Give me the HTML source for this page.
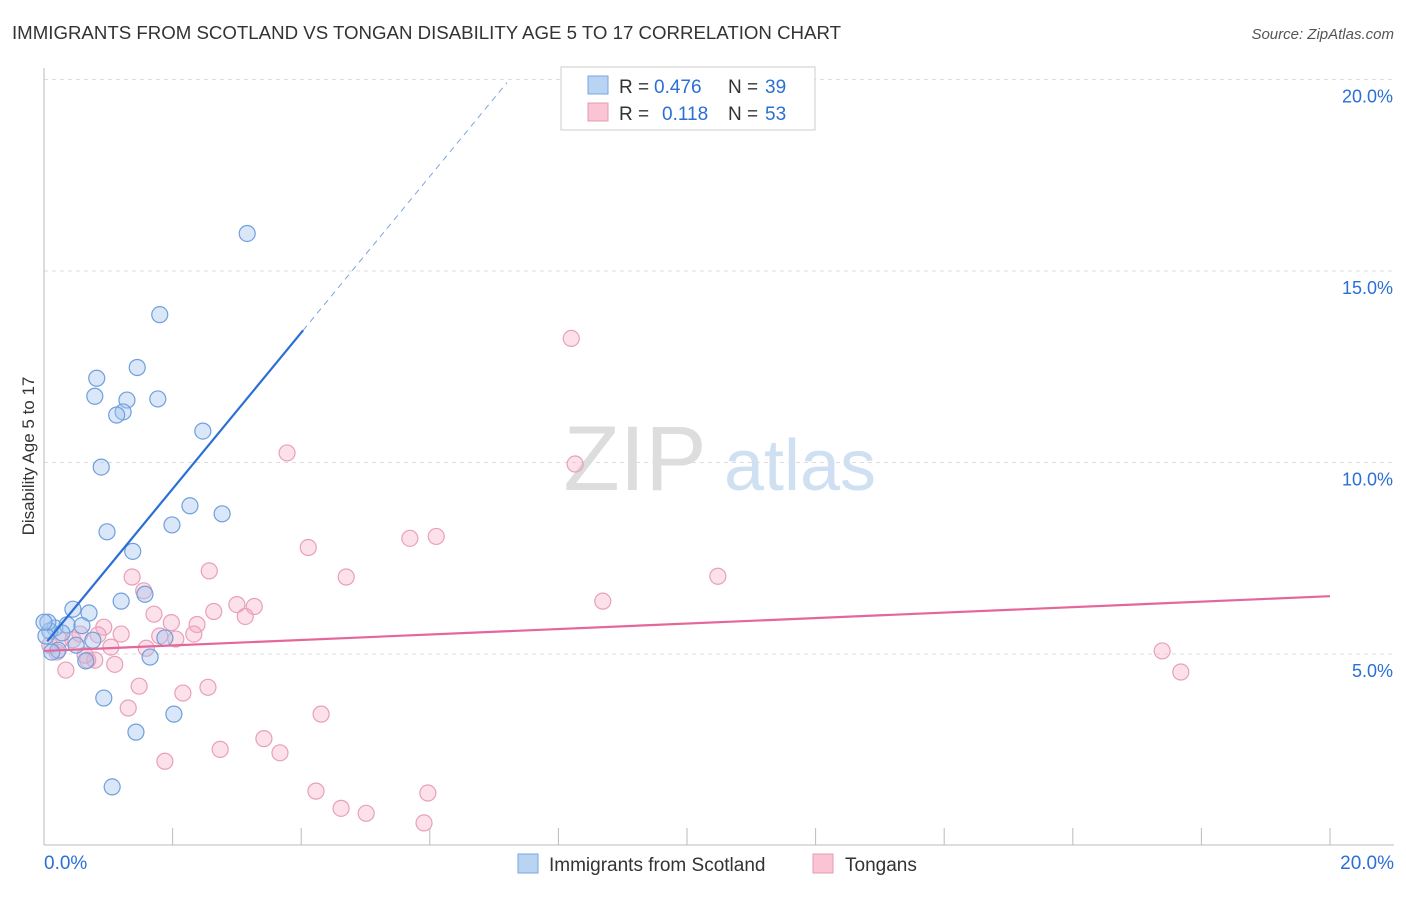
<!DOCTYPE html>
<html><head><meta charset="utf-8"><style>
body{margin:0;background:#fff;font-family:"Liberation Sans",sans-serif;}
svg text{font-family:"Liberation Sans",sans-serif;}
</style></head><body>
<svg id="chart" width="1406" height="892">
<text x="12" y="39" font-size="18" fill="#333" textLength="829" lengthAdjust="spacingAndGlyphs">IMMIGRANTS FROM SCOTLAND VS TONGAN DISABILITY AGE 5 TO 17 CORRELATION CHART</text>
<text x="1394" y="39" font-size="15" fill="#555" text-anchor="end" font-style="italic">Source: ZipAtlas.com</text>
<g>
<text x="635" y="490" font-size="92" fill="#ddd" font-family="Liberation Serif" text-anchor="middle">ZIP</text>
<text x="800" y="490" font-size="72" fill="#cfe0f3" text-anchor="middle">atlas</text>
</g>
<g id="grid"></g>
<g id="marks"></g>
<text transform="translate(34,456) rotate(-90)" font-size="17" fill="#333" text-anchor="middle">Disability Age 5 to 17</text>
<g>
<rect x="561" y="67" width="254" height="63" fill="#fff" stroke="#ccc"/>
<rect x="588" y="76" width="20" height="18" fill="#b9d3f3" stroke="#7aa6e0"/>
<rect x="588" y="103" width="20" height="18" fill="#f9c5d5" stroke="#e79ab4"/>
<text x="619" y="93" font-size="19" fill="#333">R =</text>
<text x="654" y="93" font-size="19" fill="#2b6fd6">0.476</text>
<text x="728" y="93" font-size="19" fill="#333">N =</text>
<text x="765" y="93" font-size="19" fill="#2b6fd6">39</text>
<text x="619" y="120" font-size="19" fill="#333">R =</text>
<text x="662" y="120" font-size="19" fill="#2b6fd6">0.118</text>
<text x="728" y="120" font-size="19" fill="#333">N =</text>
<text x="765" y="120" font-size="19" fill="#2b6fd6">53</text>
</g>
<g>
<rect x="518" y="854" width="20" height="19" fill="#b9d3f3" stroke="#7aa6e0"/>
<text x="549" y="871" font-size="19" fill="#333">Immigrants from Scotland</text>
<rect x="813" y="854" width="20" height="19" fill="#f9c5d5" stroke="#e79ab4"/>
<text x="845" y="871" font-size="19" fill="#333">Tongans</text>
</g>
</svg>
<script>
const yTicks=[5,10,15,20];
const yTickLabels=["5.0%","10.0%","15.0%","20.0%"];
const xTickVals=[0,2,4,6,8,10,12,14,16,18,20];
const scotX=[3.16,1.80,1.45,0.82,0.79,1.29,1.77,1.23,1.13,2.47,0.89,0.98,2.27,2.77,1.99,1.38,1.57,1.20,0.45,0.70,0.17,0.36,0.59,0.09,0.03,0.76,0.50,0.22,0.12,0.65,1.65,1.88,0.93,2.02,1.43,1.06,0.28,0.06,0.0];
const scotY=[15.98,13.86,12.48,12.20,11.73,11.63,11.66,11.32,11.24,10.82,9.88,8.19,8.87,8.66,8.37,7.68,6.56,6.38,6.17,6.07,5.68,5.76,5.74,5.60,5.47,5.36,5.23,5.10,5.05,4.82,4.92,5.42,3.85,3.43,2.96,1.53,5.55,5.83,5.83];
const tongX=[8.20,3.78,8.26,4.11,5.69,6.10,4.70,10.48,2.57,1.37,1.55,1.71,1.98,2.64,3.00,3.27,3.13,2.38,8.69,0.93,1.20,1.80,2.05,2.33,1.04,0.79,1.10,0.34,0.45,0.20,1.59,17.39,17.68,1.48,2.16,2.55,1.31,4.31,3.42,2.74,3.67,1.88,4.23,4.62,5.01,5.97,5.91,0.68,0.56,0.09,0.25,0.84,0.64];
const tongY=[13.24,10.25,9.96,7.78,8.02,8.07,7.01,7.03,7.17,7.01,6.65,6.04,5.82,6.11,6.29,6.24,5.98,5.77,6.38,5.70,5.52,5.47,5.39,5.52,5.18,4.84,4.73,4.58,5.37,5.05,5.15,5.08,4.53,4.16,3.98,4.13,3.59,3.43,2.79,2.51,2.42,2.20,1.42,0.97,0.84,1.37,0.59,4.84,5.52,5.23,5.36,5.50,4.97];
const scotLine=[5.23,2.04];
const tongLine=[5.08,0.0715];
const NS="http://www.w3.org/2000/svg";
const X=v=>44+v*64.3, Y=v=>845.5-v*38.3;
function mk(t,a,p){const e=document.createElementNS(NS,t);for(const k in a)e.setAttribute(k,a[k]);p.appendChild(e);return e;}
const grid=document.getElementById('grid'),marks=document.getElementById('marks');
yTicks.forEach((t,i)=>{
 const l=mk('line',{x1:44,x2:1394,y1:Y(t),y2:Y(t),stroke:'#ddd','stroke-dasharray':'4,4'},grid);
 
 
 const tx=mk('text',{x:1393,y:Y(t)+23,'font-size':18,fill:'#2b6fd6','text-anchor':'end'},grid);
 tx.textContent=yTickLabels[i];
 
 
});
const ax=mk('line',{x1:44,x2:44,y1:68,y2:845,stroke:'#bbb'},grid);


const bx=mk('line',{x1:44,x2:1394,y1:845,y2:845,stroke:'#bbb'},grid);


xTickVals.forEach(v=>{const t=mk('line',{x1:X(v),x2:X(v),y1:828,y2:845,stroke:'#bbb'},grid);
 
 });
[["0.0%",44,'start'],["20.0%",1394,'end']].forEach(a=>{const t=mk('text',{x:a[1],y:869,'font-size':19,fill:'#2b6fd6','text-anchor':a[2]},grid);t.textContent=a[0];
 
 });
tongX.forEach((x,i)=>{const c=mk('circle',{cx:X(x),cy:Y(tongY[i]),r:8,fill:'rgba(246,170,195,0.35)',stroke:'#e8a0b8','stroke-width':1.2},marks);
 
 });
scotX.forEach((x,i)=>{const c=mk('circle',{cx:X(x),cy:Y(scotY[i]),r:8,fill:'rgba(160,196,240,0.4)',stroke:'#6f9fdc','stroke-width':1.2},marks);
 
 });
const xs=0.05,xe=4.03,xd=7.2;
let l1=mk('line',{x1:X(xs),y1:Y(scotLine[0]+scotLine[1]*xs),x2:X(xe),y2:Y(scotLine[0]+scotLine[1]*xe),stroke:'#2b6fd6','stroke-width':2.2},marks);


let l2=mk('line',{x1:X(xe),y1:Y(scotLine[0]+scotLine[1]*xe),x2:X(xd),y2:Y(scotLine[0]+scotLine[1]*xd),stroke:'#7aa6e0','stroke-width':1,'stroke-dasharray':'6,5'},marks);


let l3=mk('line',{x1:X(0),y1:Y(tongLine[0]),x2:X(20),y2:Y(tongLine[0]+tongLine[1]*20),stroke:'#e5679a','stroke-width':2.2},marks);


</script>
</body></html>
